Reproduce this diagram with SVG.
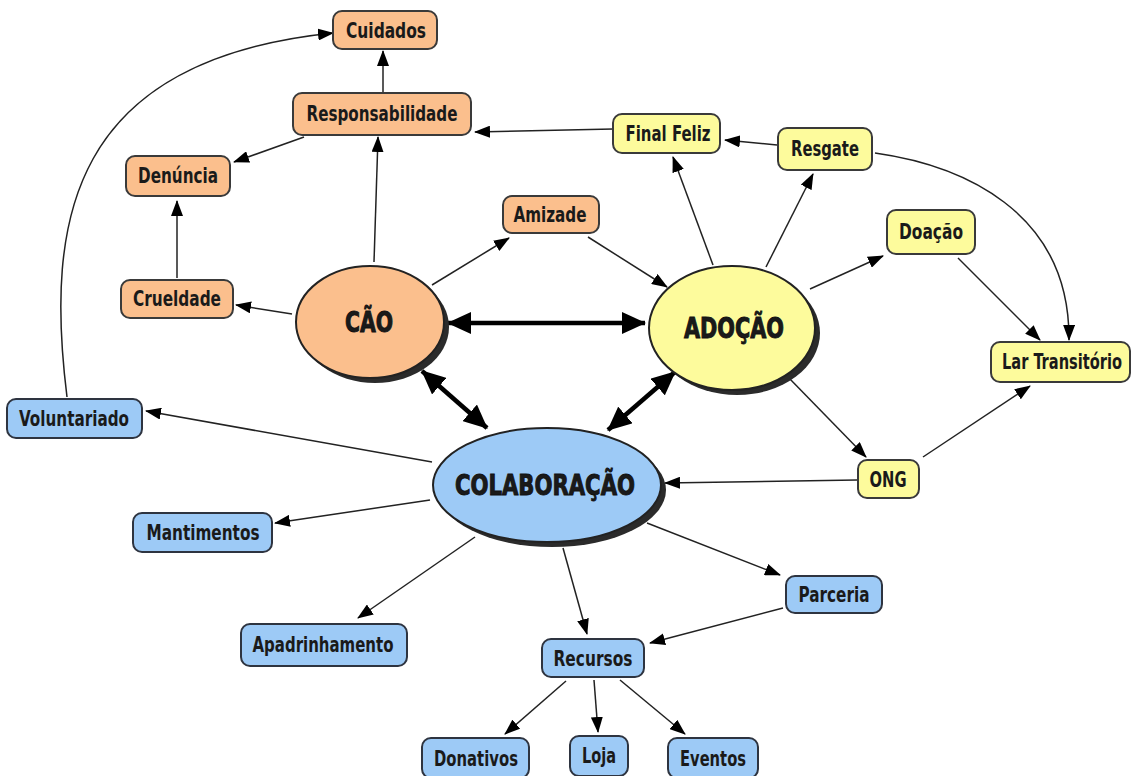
<svg xmlns="http://www.w3.org/2000/svg" width="1135" height="776" viewBox="0 0 1135 776">
<defs>
<style>
.o rect{fill:#FBBF8D;stroke:#3a3a3a;stroke-width:2}
.y rect{fill:#FDFB9C;stroke:#3a3a3a;stroke-width:2}
.b rect{fill:#9DCAF6;stroke:#2e3440;stroke-width:2}
text{font-family:"DejaVu Sans Condensed","DejaVu Sans","Liberation Sans",sans-serif;font-stretch:condensed;font-weight:bold;fill:#1a1a1a;text-anchor:middle}
.t{font-size:21px}
.m{font-size:28px;stroke:#111;stroke-width:0.9}
.c line,.c path{stroke:#222;stroke-width:1.5;fill:none;marker-end:url(#a)}
.c .k{stroke:#000;stroke-width:4.5;marker-end:url(#h);marker-start:url(#h)}
.sh{fill:#2b2b2b}
</style>
<marker id="a" markerWidth="16" markerHeight="12" refX="15" refY="6" orient="auto" markerUnits="userSpaceOnUse"><path d="M0,0 L16,6 L0,12 z" fill="#000"/></marker>
<marker id="h" markerWidth="24" markerHeight="22" refX="23" refY="11" orient="auto-start-reverse" markerUnits="userSpaceOnUse"><path d="M0,0 L24,11 L0,22 z" fill="#000"/></marker>
</defs>
<rect width="1135" height="776" fill="#fff"/>
<g class="c" id="connectors">
<line x1="383" y1="92" x2="383" y2="51"/>
<line x1="374" y1="262" x2="378" y2="137"/>
<line x1="304" y1="137" x2="234" y2="162"/>
<line x1="177" y1="278" x2="177" y2="201"/>
<line x1="292" y1="314" x2="236" y2="305"/>
<path d="M67,397 C45,220 70,60 333,33"/>
<line x1="432" y1="285" x2="509" y2="238"/>
<line x1="588" y1="237" x2="667" y2="287"/>
<line x1="713" y1="265" x2="673" y2="157"/>
<line x1="766" y1="267" x2="813" y2="174"/>
<line x1="777" y1="145" x2="725" y2="140"/>
<line x1="613" y1="129" x2="475" y2="132"/>
<line x1="810" y1="289" x2="883" y2="256"/>
<line x1="958" y1="258" x2="1040" y2="340"/>
<path d="M875,153 C960,165 1070,210 1069,340"/>
<line x1="788" y1="377" x2="866" y2="457"/>
<line x1="923" y1="457" x2="1030" y2="386"/>
<line x1="857" y1="480" x2="665" y2="483"/>
<line x1="432" y1="462" x2="146" y2="411"/>
<line x1="430" y1="500" x2="275" y2="523"/>
<line x1="475" y1="537" x2="358" y2="618"/>
<line x1="563" y1="548" x2="587" y2="634"/>
<line x1="647" y1="523" x2="780" y2="575"/>
<line x1="783" y1="608" x2="650" y2="643"/>
<line x1="566" y1="681" x2="505" y2="734"/>
<line x1="594" y1="680" x2="598" y2="732"/>
<line x1="620" y1="680" x2="685" y2="734"/>
<line class="k" x1="448" y1="323" x2="645" y2="323"/>
<line class="k" x1="422" y1="371" x2="487" y2="428"/>
<line class="k" x1="675" y1="372" x2="608" y2="430"/>
</g>
<g id="cao">
<ellipse class="sh" cx="375" cy="327" rx="74" ry="56"/>
<ellipse cx="370" cy="322" rx="74" ry="56" fill="#FBBF8D" stroke="#222" stroke-width="2"/>
<text class="m" x="369" y="332" textLength="48" lengthAdjust="spacingAndGlyphs">CÃO</text>
</g>
<g id="adocao">
<ellipse class="sh" cx="737" cy="333" rx="83" ry="62"/>
<ellipse cx="732" cy="328" rx="83" ry="62" fill="#FDFB9C" stroke="#222" stroke-width="2"/>
<text class="m" x="734" y="338" textLength="100" lengthAdjust="spacingAndGlyphs">ADOÇÃO</text>
</g>
<g id="colaboracao">
<ellipse class="sh" cx="552" cy="490" rx="114" ry="57"/>
<ellipse cx="547" cy="485" rx="114" ry="57" fill="#9DCAF6" stroke="#222" stroke-width="2"/>
<text class="m" x="545" y="495" textLength="180" lengthAdjust="spacingAndGlyphs">COLABORAÇÃO</text>
</g>
<g id="cuidados" class="o"><rect x="333" y="11" width="104" height="38" rx="9"/><text class="t" x="386" y="38" textLength="80" lengthAdjust="spacingAndGlyphs">Cuidados</text></g>
<g id="responsabilidade" class="o"><rect x="293" y="93" width="178" height="42" rx="9"/><text class="t" x="382" y="121" textLength="151" lengthAdjust="spacingAndGlyphs">Responsabilidade</text></g>
<g id="denuncia" class="o"><rect x="126" y="156" width="104" height="40" rx="9"/><text class="t" x="178" y="183" textLength="80" lengthAdjust="spacingAndGlyphs">Denúncia</text></g>
<g id="crueldade" class="o"><rect x="121" y="280" width="112" height="38" rx="9"/><text class="t" x="177" y="306" textLength="88" lengthAdjust="spacingAndGlyphs">Crueldade</text></g>
<g id="amizade" class="o"><rect x="503" y="196" width="96" height="37" rx="9"/><text class="t" x="550" y="222" textLength="73" lengthAdjust="spacingAndGlyphs">Amizade</text></g>
<g id="finalfeliz" class="y"><rect x="613" y="114" width="107" height="39" rx="9"/><text class="t" x="668" y="141" textLength="85" lengthAdjust="spacingAndGlyphs">Final Feliz</text></g>
<g id="resgate" class="y"><rect x="778" y="128" width="94" height="42" rx="9"/><text class="t" x="825" y="156" textLength="68" lengthAdjust="spacingAndGlyphs">Resgate</text></g>
<g id="doacao" class="y"><rect x="887" y="210" width="88" height="44" rx="9"/><text class="t" x="931" y="239" textLength="64" lengthAdjust="spacingAndGlyphs">Doação</text></g>
<g id="lartransitorio" class="y"><rect x="991" y="342" width="139" height="40" rx="9"/><text class="t" transform="translate(1062,369) scale(0.75,1)" x="0" y="0" textLength="160" lengthAdjust="spacingAndGlyphs">Lar Transitório</text></g>
<g id="ong" class="y"><rect x="858" y="460" width="61" height="38" rx="9"/><text class="t" x="888" y="487" textLength="37" lengthAdjust="spacingAndGlyphs">ONG</text></g>
<g id="voluntariado" class="b"><rect x="7" y="399" width="135" height="39" rx="9"/><text class="t" x="74" y="426" textLength="110" lengthAdjust="spacingAndGlyphs">Voluntariado</text></g>
<g id="mantimentos" class="b"><rect x="133" y="513" width="139" height="39" rx="9"/><text class="t" x="203" y="540" textLength="113" lengthAdjust="spacingAndGlyphs">Mantimentos</text></g>
<g id="apadrinhamento" class="b"><rect x="241" y="624" width="166" height="42" rx="9"/><text class="t" x="323" y="652" textLength="141" lengthAdjust="spacingAndGlyphs">Apadrinhamento</text></g>
<g id="parceria" class="b"><rect x="786" y="576" width="96" height="37" rx="9"/><text class="t" x="834" y="602" textLength="71" lengthAdjust="spacingAndGlyphs">Parceria</text></g>
<g id="recursos" class="b"><rect x="542" y="639" width="102" height="38" rx="9"/><text class="t" x="593" y="666" textLength="79" lengthAdjust="spacingAndGlyphs">Recursos</text></g>
<g id="donativos" class="b"><rect x="422" y="738" width="107" height="40" rx="9"/><text class="t" x="476" y="766" textLength="84" lengthAdjust="spacingAndGlyphs">Donativos</text></g>
<g id="loja" class="b"><rect x="570" y="736" width="58" height="40" rx="9"/><text class="t" x="599" y="763" textLength="34" lengthAdjust="spacingAndGlyphs">Loja</text></g>
<g id="eventos" class="b"><rect x="668" y="738" width="90" height="40" rx="9"/><text class="t" x="713" y="766" textLength="66" lengthAdjust="spacingAndGlyphs">Eventos</text></g>
</svg>
